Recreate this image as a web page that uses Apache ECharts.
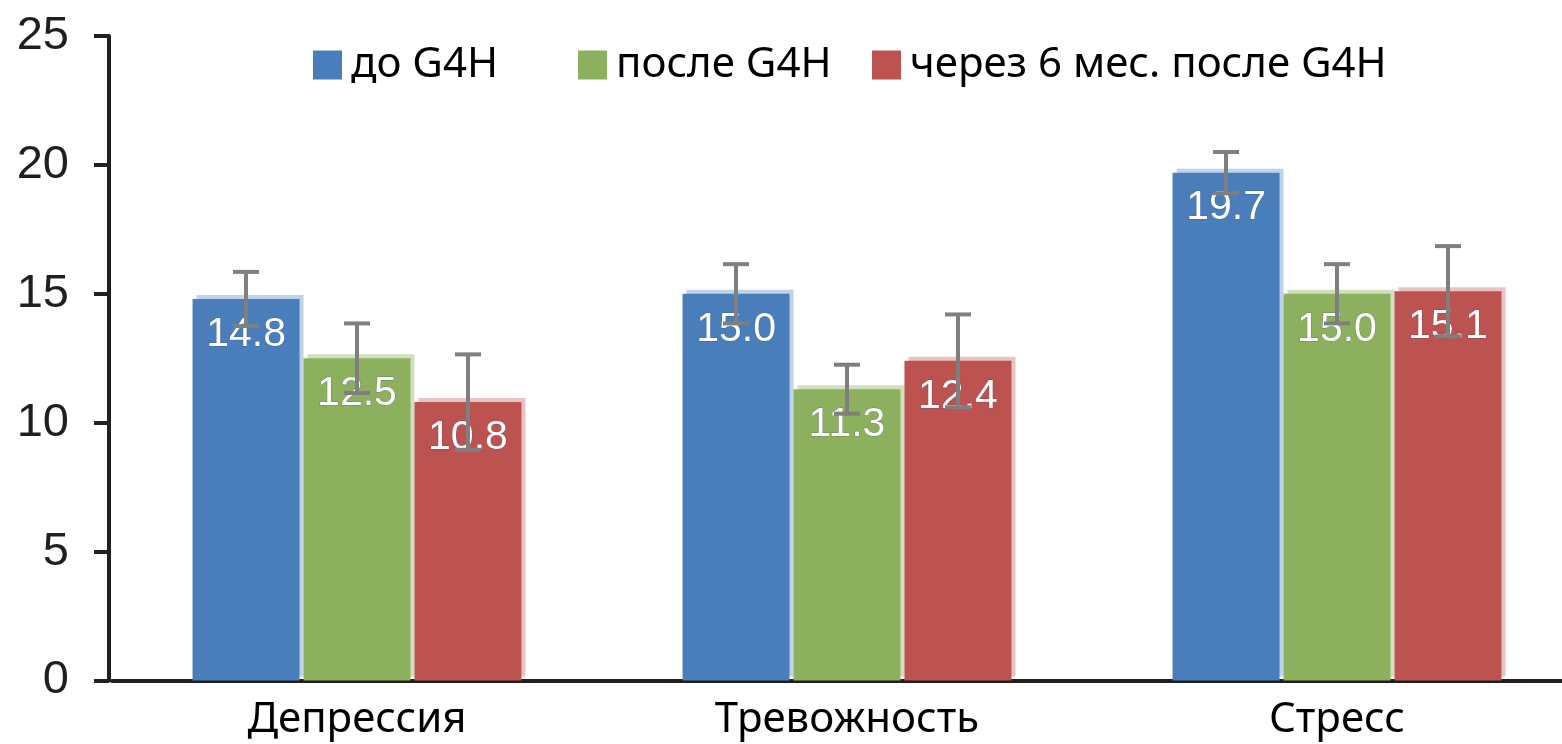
<!DOCTYPE html>
<html>
<head>
<meta charset="utf-8">
<script src="https://cdn.jsdelivr.net/npm/echarts@6/dist/echarts.min.js"></script>
<style>html,body{margin:0;padding:0;background:#fff;overflow:hidden;width:1562px;height:744px;}#c{width:1582px;height:744px;}</style>
</head>
<body>
<div id="c"></div>
<script>
const categories = ['Депрессия', 'Тревожность', 'Стресс'];
const seriesNames = ['до G4H', 'после G4H', 'через 6 мес. после G4H'];
const beforeVals = [14.8, 15.0, 19.7];
const afterVals = [12.5, 11.3, 15.0];
const sixMonthVals = [10.8, 12.4, 15.1];
const beforeErr = [1.05, 1.15, 0.8];
const afterErr = [1.35, 0.95, 1.15];
const sixMonthErr = [1.85, 1.8, 1.75];
const yMin = 0, yMax = 25, yStep = 5;

const colors = ['#4A7EBB', '#8CB05D', '#BD5351'];
const shadowColors = ['rgba(74,126,187,0.35)', 'rgba(140,176,93,0.4)', 'rgba(189,83,81,0.35)'];
const BAR_W = 107;
const BAR_STEP = 111;

const allVals = [beforeVals, afterVals, sixMonthVals];
const allErr = [beforeErr, afterErr, sixMonthErr];

const chart = echarts.init(document.getElementById('c'));

const barSeries = allVals.map((vals, i) => ({
  name: seriesNames[i],
  type: 'bar',
  data: vals,
  barWidth: BAR_W,
  barGap: '3.7%',
  barCategoryGap: '33%',
  z: 2,
  itemStyle: {
    color: colors[i],
    shadowColor: shadowColors[i],
    shadowBlur: 0,
    shadowOffsetX: 4,
    shadowOffsetY: -4
  },
  label: {
    show: true,
    position: 'insideTop',
    distance: 15,
    formatter: p => p.value.toFixed(1),
    fontFamily: 'Liberation Sans, Arial, sans-serif',
    fontSize: 41,
    color: '#ffffff',
    textBorderColor: 'rgba(60,60,110,0.35)',
    textBorderWidth: 1
  },
  emphasis: { disabled: true }
}));

const errSeries = allVals.map((vals, i) => ({
  type: 'custom',
  name: seriesNames[i] + ' err',
  z: 3,
  silent: true,
  data: vals.map((v, k) => [k, v, allErr[i][k]]),
  renderItem: function (params, api) {
    const k = api.value(0), v = api.value(1), e = api.value(2);
    const c = api.coord([k, v]);
    const x = c[0] + (i - 1) * BAR_STEP;
    const yt = api.coord([k, v + e])[1];
    const yb = api.coord([k, v - e])[1];
    const st = { stroke: '#7F7F7F', lineWidth: 4 };
    return {
      type: 'group',
      children: [
        { type: 'line', shape: { x1: x, y1: yt, x2: x, y2: yb }, style: st },
        { type: 'line', shape: { x1: x - 13, y1: yt, x2: x + 13, y2: yt }, style: st },
        { type: 'line', shape: { x1: x - 13, y1: yb, x2: x + 13, y2: yb }, style: st }
      ]
    };
  }
}));

const legendLefts = [313, 578, 872];
const legends = seriesNames.map((n, i) => ({
  data: [n],
  left: legendLefts[i],
  top: 44,
  padding: 0,
  itemWidth: 29,
  itemHeight: 29,
  icon: 'rect',
  selectedMode: false,
  textStyle: {
    fontFamily: 'Noto Sans, sans-serif',
    fontSize: 42,
    color: '#000',
    padding: [0, 0, 0, 4]
  }
}));

chart.setOption({
  animation: false,
  backgroundColor: '#ffffff',
  color: colors,
  legend: legends,
  grid: { left: 112, right: 0, top: 36, bottom: 63.5, containLabel: false },
  xAxis: {
    type: 'category',
    data: categories,
    axisLine: { show: true, lineStyle: { color: '#231F20', width: 4 } },
    axisTick: { show: false },
    axisLabel: {
      margin: 19,
      fontFamily: 'Noto Sans, sans-serif',
      fontSize: 42,
      color: '#000'
    }
  },
  yAxis: {
    type: 'value',
    min: yMin,
    max: yMax,
    interval: yStep,
    offset: 3,
    splitLine: { show: false },
    axisLine: { show: true, lineStyle: { color: '#231F20', width: 4 } },
    axisTick: { show: true, length: 15, lineStyle: { color: '#231F20', width: 4 } },
    axisLabel: {
      margin: 40,
      fontFamily: 'Liberation Sans, Arial, sans-serif',
      fontSize: 47,
      color: '#1F1F1F'
    }
  },
  series: barSeries.concat(errSeries)
});
</script>
</body>
</html>
